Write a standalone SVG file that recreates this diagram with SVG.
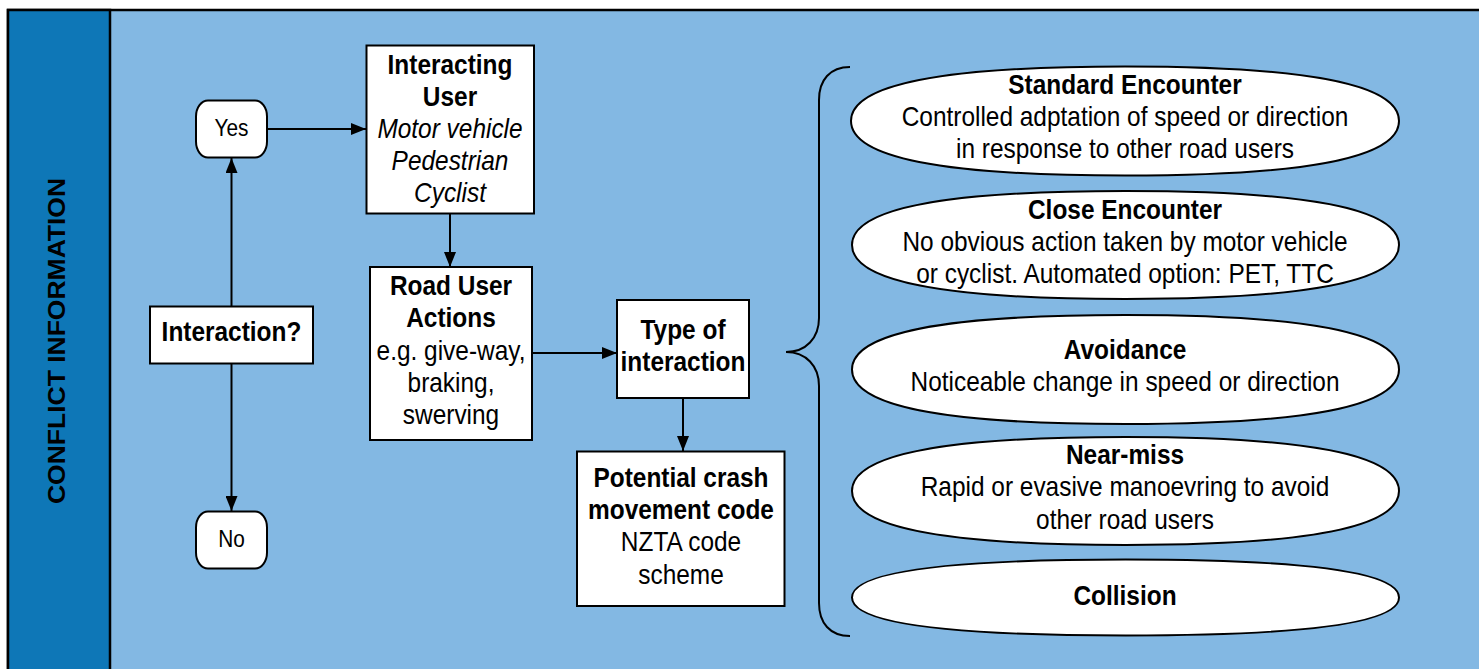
<svg xmlns="http://www.w3.org/2000/svg" width="1479" height="669" viewBox="0 0 1479 669">
<defs>
<style>
.t{font-family:"Liberation Sans",Arial,sans-serif;font-size:27px;fill:#000;text-anchor:middle}
.s{font-size:23px}
.b{font-weight:bold}
.i{font-style:italic}
.box{fill:#fff;stroke:#000;stroke-width:2}
.conn{stroke:#000;stroke-width:2;fill:none;marker-end:url(#ah)}
</style>
<marker id="ah" markerWidth="15" markerHeight="12" refX="15" refY="6" orient="auto" markerUnits="userSpaceOnUse">
<path d="M0,0 L15,6 L0,12 Z" fill="#000"/>
</marker>
</defs>
<g id="background">
<rect x="8" y="10" width="1482" height="672" fill="#83b8e3" stroke="#000" stroke-width="2.5"/>
<rect x="8" y="10" width="102" height="672" fill="#0e77b7" stroke="#000" stroke-width="2.5"/>
<text class="t b" style="font-size:26.5px" transform="translate(65,341) scale(0.905,1) rotate(-90)" x="0" y="0">CONFLICT INFORMATION</text>
</g>
<g id="connectors">
<line class="conn" x1="231.5" y1="306" x2="231.5" y2="158"/>
<line class="conn" x1="231.5" y1="363" x2="231.5" y2="511"/>
<line class="conn" x1="268" y1="129" x2="366" y2="129"/>
<line class="conn" x1="450" y1="214" x2="450" y2="267"/>
<line class="conn" x1="532" y1="353" x2="617" y2="353"/>
<line class="conn" x1="683" y1="398" x2="683" y2="451"/>
<path d="M850,67 C830,67 819,80 819,100 L819,318 C819,338 806,352 786,352 C806,352 819,366 819,386 L819,603 C819,623 830,636 850,636" fill="none" stroke="#000" stroke-width="2"/>
</g>
<g id="yes">
<rect class="box" x="196" y="100.5" width="71" height="57" rx="12" ry="16"/>
<text class="t s" transform="translate(231.5,0) scale(0.905,1)" x="0" y="136">Yes</text>
</g>
<g id="no">
<rect class="box" x="196" y="511.5" width="71" height="57" rx="12" ry="16"/>
<text class="t s" transform="translate(231.5,0) scale(0.905,1)" x="0" y="547">No</text>
</g>
<g id="interaction">
<rect class="box" x="150" y="306.5" width="163" height="57"/>
<text class="t b" transform="translate(231.5,0) scale(0.905,1)" x="0" y="341">Interaction?</text>
</g>
<g id="interacting-user">
<rect class="box" x="366.5" y="45.5" width="167.5" height="168"/>
<text class="t" transform="translate(450,0) scale(0.905,1)"><tspan class="b" x="0" y="74">Interacting</tspan><tspan class="b" x="0" y="106">User</tspan><tspan class="i" x="0" y="138">Motor vehicle</tspan><tspan class="i" x="0" y="170">Pedestrian</tspan><tspan class="i" x="0" y="202">Cyclist</tspan></text>
</g>
<g id="road-user-actions">
<rect class="box" x="370" y="267" width="162" height="173"/>
<text class="t" transform="translate(451,0) scale(0.905,1)"><tspan class="b" x="0" y="295">Road User</tspan><tspan class="b" x="0" y="327">Actions</tspan><tspan x="0" y="360">e.g. give-way,</tspan><tspan x="0" y="392">braking,</tspan><tspan x="0" y="424">swerving</tspan></text>
</g>
<g id="type-of-interaction">
<rect class="box" x="617" y="300" width="132" height="98"/>
<text class="t b" transform="translate(683,0) scale(0.905,1)"><tspan x="0" y="339">Type of</tspan><tspan x="0" y="371">interaction</tspan></text>
</g>
<g id="potential-crash">
<rect class="box" x="577" y="451.5" width="207.5" height="154.5"/>
<text class="t" transform="translate(681,0) scale(0.905,1)"><tspan class="b" x="0" y="487">Potential crash</tspan><tspan class="b" x="0" y="519">movement code</tspan><tspan x="0" y="551">NZTA code</tspan><tspan x="0" y="584">scheme</tspan></text>
</g>
<g id="standard-encounter">
<path class="box" d="M851,121 C851,84.485 941.42,66.5 1125,66.5 C1308.58,66.5 1399,84.485 1399,121 C1399,157.515 1308.58,175.5 1125,175.5 C941.42,175.5 851,157.515 851,121 Z"/>
<text class="t" transform="translate(1125,0) scale(0.905,1)"><tspan class="b" x="0" y="94">Standard Encounter</tspan><tspan x="0" y="126">Controlled adptation of speed or direction</tspan><tspan x="0" y="158">in response to other road users</tspan></text>
</g>
<g id="close-encounter">
<path class="box" d="M852,245 C852,208.82 942.255,191 1125.5,191 C1308.745,191 1399,208.82 1399,245 C1399,281.18 1308.745,299 1125.5,299 C942.255,299 852,281.18 852,245 Z"/>
<text class="t" transform="translate(1125,0) scale(0.905,1)"><tspan class="b" x="0" y="219">Close Encounter</tspan><tspan x="0" y="251">No obvious action taken by motor vehicle</tspan><tspan x="0" y="283">or cyclist. Automated option: PET, TTC</tspan></text>
</g>
<g id="avoidance">
<path class="box" d="M852,369.5 C852,332.985 942.255,315 1125.5,315 C1308.745,315 1399,332.985 1399,369.5 C1399,406.015 1308.745,424 1125.5,424 C942.255,424 852,406.015 852,369.5 Z"/>
<text class="t" transform="translate(1125,0) scale(0.905,1)"><tspan class="b" x="0" y="359">Avoidance</tspan><tspan x="0" y="391">Noticeable change in speed or direction</tspan></text>
</g>
<g id="near-miss">
<path class="box" d="M852,491 C852,454.82 942.255,437 1125.5,437 C1308.745,437 1399,454.82 1399,491 C1399,527.18 1308.745,545 1125.5,545 C942.255,545 852,527.18 852,491 Z"/>
<text class="t" transform="translate(1125,0) scale(0.905,1)"><tspan class="b" x="0" y="464">Near-miss</tspan><tspan x="0" y="496">Rapid or evasive manoevring to avoid</tspan><tspan x="0" y="529">other road users</tspan></text>
</g>
<g id="collision">
<path class="box" d="M852,597.5 C852,572.04 942.255,559.5 1125.5,559.5 C1308.745,559.5 1399,572.04 1399,597.5 C1399,622.96 1308.745,635.5 1125.5,635.5 C942.255,635.5 852,622.96 852,597.5 Z"/>
<text class="t b" transform="translate(1125,0) scale(0.905,1)" x="0" y="605">Collision</text>
</g>
</svg>
